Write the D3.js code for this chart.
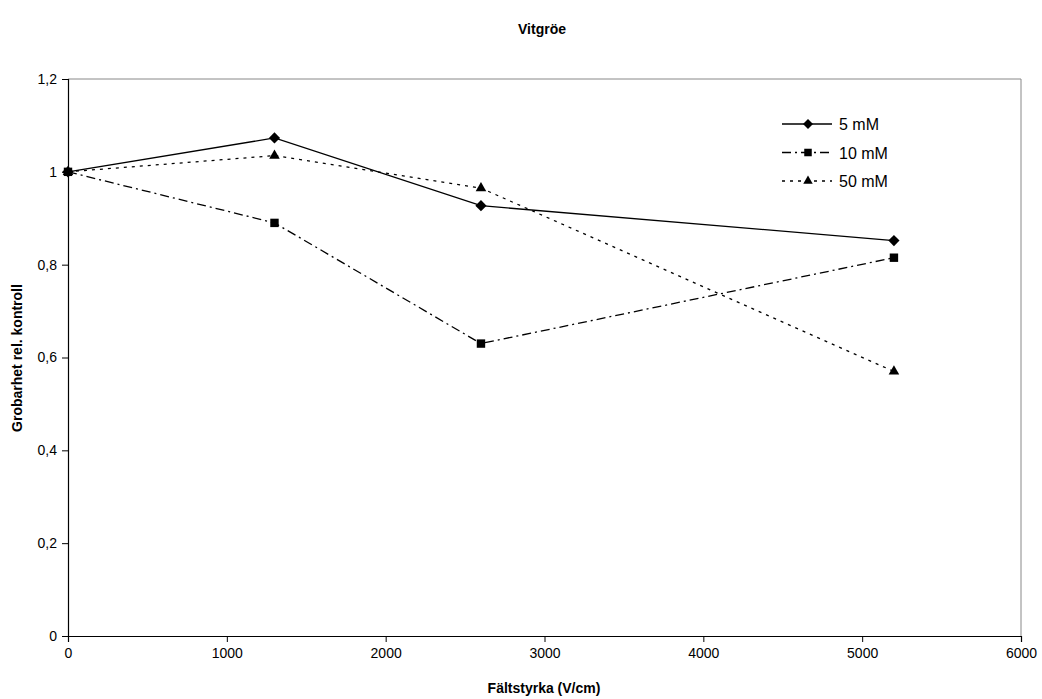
<!DOCTYPE html>
<html lang="sv">
<head>
<meta charset="utf-8">
<title>Vitgröe</title>
<script src="https://cdn.jsdelivr.net/npm/d3@7"></script>
<style>
  body { margin: 0; background: #fff; }
  text { font-family: "Liberation Sans", Arial, sans-serif; fill: #000; }
</style>
</head>
<body>
<script>
// data
var xValues = [0, 1300, 2600, 5200];
var s5 = [1, 1.073, 0.927, 0.852];
var s10 = [1, 0.89, 0.63, 0.815];
var s50 = [1, 1.035, 0.965, 0.57];
var seriesNames = ["5 mM", "10 mM", "50 mM"];
var xTicks = [0, 1000, 2000, 3000, 4000, 5000, 6000];
var yTicks = [0, 0.2, 0.4, 0.6, 0.8, 1, 1.2];

var w = 1042, h = 699;
var mLeft = 68, mRight = 1021, mTop = 79, mBottom = 636;

var svg = d3.select("body").append("svg")
    .attr("width", w).attr("height", h);

var x = d3.scaleLinear().domain([0, 6000]).range([mLeft, mRight]);
var y = d3.scaleLinear().domain([0, 1.2]).range([mBottom, mTop]);

// frame: top and right in grey
svg.append("line").attr("x1", mLeft).attr("x2", mRight).attr("y1", mTop).attr("y2", mTop)
   .attr("stroke", "#888").attr("stroke-width", 1);
svg.append("line").attr("x1", mRight).attr("x2", mRight).attr("y1", mTop).attr("y2", mBottom)
   .attr("stroke", "#888").attr("stroke-width", 1);

var fmt = function(d) { return String(d).replace(".", ","); };

var xAxis = svg.append("g").attr("transform", "translate(0," + mBottom + ")")
    .call(d3.axisBottom(x).tickValues(xTicks).tickSize(6).tickPadding(6).tickFormat(d3.format("d")));
var yAxis = svg.append("g").attr("transform", "translate(" + mLeft + ",0)")
    .call(d3.axisLeft(y).tickValues(yTicks).tickSize(6).tickPadding(5).tickFormat(fmt));

[xAxis, yAxis].forEach(function(a) {
  a.select(".domain").attr("stroke", "#000").attr("stroke-width", 1.2);
  a.selectAll(".tick line").attr("stroke", "#000");
  a.selectAll("text").style("font-size", "14px").style("font-family", "Liberation Sans, Arial, sans-serif").attr("fill", "#000");
});

// series
var series = [
  { name: seriesNames[0], values: s5, dash: null, marker: d3.symbolDiamond2, msize: 80 },
  { name: seriesNames[1], values: s10, dash: "9,4,2,4", marker: d3.symbolSquare2, msize: 90 },
  { name: seriesNames[2], values: s50, dash: "3,5", marker: d3.symbolTriangle2, msize: 80 }
];

var line = d3.line()
    .x(function(d, i) { return x(xValues[i]); })
    .y(function(d) { return y(d); });

series.forEach(function(s) {
  svg.append("path")
     .attr("d", line(s.values))
     .attr("fill", "none")
     .attr("stroke", "#000")
     .attr("stroke-width", 1.3)
     .attr("stroke-dasharray", s.dash);

  svg.selectAll(null)
     .data(s.values)
     .enter()
     .append("path")
     .attr("d", d3.symbol().type(s.marker).size(s.msize))
     .attr("transform", function(d, i) { return "translate(" + x(xValues[i]) + "," + y(d) + ")"; })
     .attr("fill", "#000");
});

// legend
var legend = svg.append("g").attr("transform", "translate(782,124)");
series.forEach(function(s, i) {
  var g = legend.append("g").attr("transform", "translate(0," + (i * 28.5) + ")");
  g.append("line").attr("x1", 0).attr("x2", 50).attr("y1", 0).attr("y2", 0)
   .attr("stroke", "#000").attr("stroke-width", 1.3).attr("stroke-dasharray", s.dash);
  g.append("path").attr("d", d3.symbol().type(s.marker).size(s.msize * 0.8))
   .attr("transform", "translate(26,0)").attr("fill", "#000");
  g.append("text").attr("x", 57).attr("y", 6).style("font-size", "16px").text(s.name);
});

// title and axis labels
svg.append("text").attr("x", 542).attr("y", 34).attr("text-anchor", "middle")
   .style("font-size", "14px").style("font-weight", "bold").text("Vitgröe");
svg.append("text").attr("x", 544).attr("y", 693).attr("text-anchor", "middle")
   .style("font-size", "14px").style("font-weight", "bold").text("Fältstyrka (V/cm)");
svg.append("text").attr("transform", "translate(22,358) rotate(-90)").attr("text-anchor", "middle")
   .style("font-size", "14px").style("font-weight", "bold").text("Grobarhet rel. kontroll");
</script>
</body>
</html>
